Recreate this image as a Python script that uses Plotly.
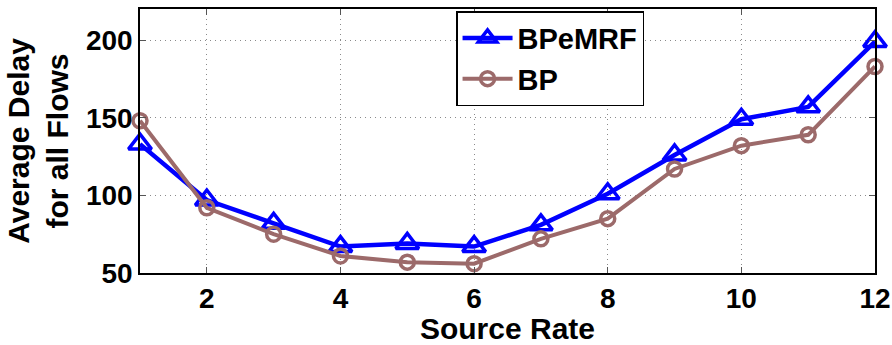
import plotly.graph_objects as go

source_rate = [1, 2, 3, 4, 5, 6, 7, 8, 9, 10, 11, 12]
bpemrf_delay = [133, 97, 82, 67, 69, 67, 81, 101, 126, 149, 157, 199]
bp_delay = [148, 92, 75, 61, 57, 56, 72, 85, 117, 132, 139, 183]

x_ticks = [2, 4, 6, 8, 10, 12]
y_ticks = [50, 100, 150, 200]

BLUE = "#0000FF"
BROWN = "#9C6A6A"
FONT = "Liberation Sans, Arial, sans-serif"

fig = go.Figure()
fig.add_trace(go.Scatter(
    x=source_rate, y=bpemrf_delay, name="<b>BPeMRF</b>",
    mode="lines+markers",
    line=dict(color=BLUE, width=4.5),
    marker=dict(symbol="triangle-up-open", size=20, color=BLUE,
                line=dict(width=3.5, color=BLUE)),
    cliponaxis=False,
))
fig.add_trace(go.Scatter(
    x=source_rate, y=bp_delay, name="<b>BP</b>",
    mode="lines+markers",
    line=dict(color=BROWN, width=4),
    marker=dict(symbol="circle-open", size=14, color=BROWN,
                line=dict(width=3.5, color=BROWN)),
    cliponaxis=False,
))

axis_common = dict(
    showline=True, linecolor="black", linewidth=1.5, mirror="ticks",
    ticks="inside", ticklen=6, tickwidth=1, tickcolor="#555",
    showgrid=True, gridcolor="#8a8a8a", griddash="1px,4px", gridwidth=1,
    zeroline=False, automargin=False,
    tickfont=dict(family=FONT, size=28, color="black", weight="bold"),
)

fig.update_xaxes(
    range=[1, 12], tickvals=x_ticks,
    title=dict(text="<b>Source Rate</b>", standoff=0,
               font=dict(family=FONT, size=30, color="black")),
    **axis_common,
)
fig.update_yaxes(
    range=[50, 220], tickvals=y_ticks,
    title=dict(text="<b>Average Delay<br>for all Flows</b>", standoff=8,
               font=dict(family=FONT, size=30, color="black")),
    **axis_common,
)

fig.update_layout(
    width=892, height=345,
    margin=dict(l=140, r=17, t=9, b=72),
    plot_bgcolor="white", paper_bgcolor="white",
    showlegend=True,
    legend=dict(
        x=0.43, y=0.992, xanchor="left", yanchor="top",
        bgcolor="white", bordercolor="black", borderwidth=1.5,
        font=dict(family=FONT, size=29, color="black"),
        itemwidth=50, tracegroupgap=0,
    ),
)

fig.write_html("out.html")
